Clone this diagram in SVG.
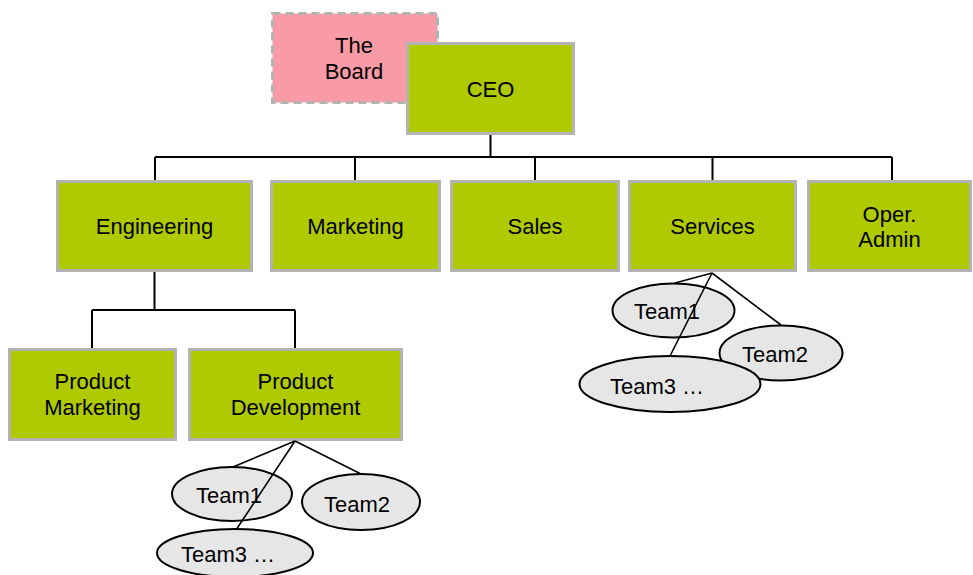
<svg xmlns="http://www.w3.org/2000/svg" width="973" height="575" viewBox="0 0 973 575">
  <style>
    .box { fill: #AFCA00; stroke: #B3B3B3; stroke-width: 3; }
    .board { fill: #F99AA7; stroke: #B3B3B3; stroke-width: 3; stroke-dasharray: 8 5; }
    .team { fill: #E6E6E6; stroke: #000; stroke-width: 2; }
    .lbl { font-family: "Liberation Sans", Arial, sans-serif; font-size: 22px; fill: #000; text-anchor: middle; }
    .tree { fill: none; stroke: #000; stroke-width: 2; }
    .link { fill: none; stroke: #000; stroke-width: 1.6; }
  </style>

  <!-- board (behind CEO) -->
  <g id="board">
    <rect class="board" x="272.5" y="13.5" width="165" height="89"/>
    <text class="lbl" x="354" y="53">The</text>
    <text class="lbl" x="354" y="79">Board</text>
  </g>

  <g id="ceo">
    <rect class="box" x="407.5" y="43.5" width="166" height="90"/>
    <text class="lbl" x="490.5" y="97">CEO</text>
  </g>

  <!-- departments -->
  <g id="engineering">
    <rect class="box" x="57.5" y="181.5" width="194" height="89"/>
    <text class="lbl" x="154.5" y="234">Engineering</text>
  </g>
  <g id="marketing">
    <rect class="box" x="271.5" y="181.5" width="168" height="89"/>
    <text class="lbl" x="355.5" y="234">Marketing</text>
  </g>
  <g id="sales">
    <rect class="box" x="451.5" y="181.5" width="167" height="89"/>
    <text class="lbl" x="535" y="234">Sales</text>
  </g>
  <g id="services">
    <rect class="box" x="629.5" y="181.5" width="166" height="89"/>
    <text class="lbl" x="712.5" y="234">Services</text>
  </g>
  <g id="oper-admin">
    <rect class="box" x="808.5" y="181.5" width="162" height="89"/>
    <text class="lbl" x="889.5" y="222">Oper.</text>
    <text class="lbl" x="889.5" y="247">Admin</text>
  </g>

  <!-- engineering sub-units -->
  <g id="product-marketing">
    <rect class="box" x="9.5" y="349.5" width="166" height="90"/>
    <text class="lbl" x="92.5" y="389">Product</text>
    <text class="lbl" x="92.5" y="415">Marketing</text>
  </g>
  <g id="product-development">
    <rect class="box" x="189.5" y="349.5" width="212" height="90"/>
    <text class="lbl" x="295.5" y="389">Product</text>
    <text class="lbl" x="295.5" y="415">Development</text>
  </g>

  <!-- product development teams -->
  <g id="pd-team1">
    <ellipse class="team" cx="232" cy="494" rx="60" ry="27"/>
    <text class="lbl" x="229" y="503">Team1</text>
  </g>
  <g id="pd-team2">
    <ellipse class="team" cx="361" cy="502" rx="59" ry="28"/>
    <text class="lbl" x="357" y="512">Team2</text>
  </g>
  <g id="pd-team3">
    <ellipse class="team" cx="235" cy="553" rx="78" ry="24"/>
    <text class="lbl" x="228" y="562">Team3 …</text>
  </g>

  <!-- services teams -->
  <g id="sv-team1">
    <ellipse class="team" cx="673.5" cy="310.5" rx="61" ry="27"/>
    <text class="lbl" x="667" y="319">Team1</text>
  </g>
  <g id="sv-team2">
    <ellipse class="team" cx="781" cy="353" rx="61.5" ry="27.5"/>
    <text class="lbl" x="775" y="362">Team2</text>
  </g>
  <g id="sv-team3">
    <ellipse class="team" cx="670" cy="384" rx="90.5" ry="28"/>
    <text class="lbl" x="657" y="394">Team3 …</text>
  </g>

  <!-- connectors -->
  <g id="connectors">
    <path class="tree" d="M490.5 135 V157 M155 157 H892 M155 157 V180 M355 157 V180 M535 157 V180 M712.5 157 V180 M892 157 V180"/>
    <path class="tree" d="M154.5 272 V310 M92 310 H295 M92 310 V348 M295 310 V348"/>
    <path class="link" d="M295 441 L233 467 M295 441 L361 474 M295 441 L236 530"/>
    <path class="link" d="M712 273 L675 283 M712 273 L781 325 M712 273 L670 356"/>
  </g>
</svg>
